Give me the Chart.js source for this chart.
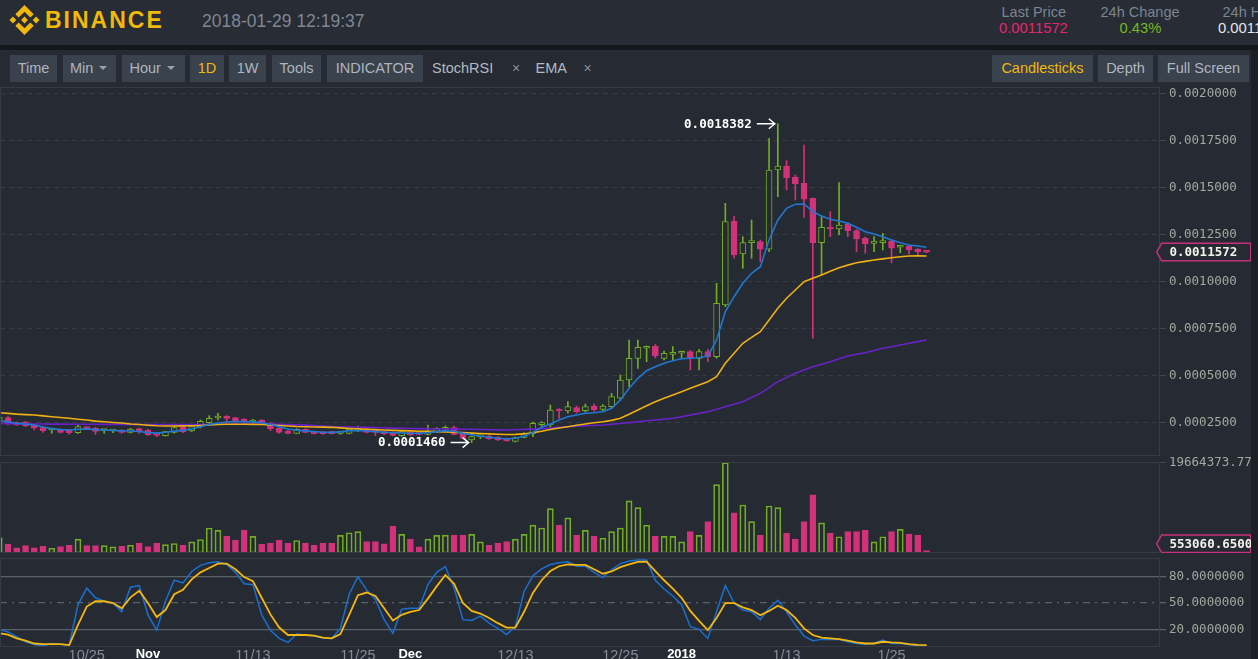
<!DOCTYPE html>
<html>
<head>
<meta charset="utf-8">
<title>BNB/BTC 1D</title>
<script src="https://cdn.jsdelivr.net/npm/chart.js@4.4.1/dist/chart.umd.min.js"></script>
<style>
  html, body { margin:0; padding:0; width:1258px; height:659px; overflow:hidden; background:#252a33; }
  body { position:relative; font-family:"Liberation Sans", Arial, sans-serif; }
  .abs { position:absolute; white-space:nowrap; }
  #header { left:0; top:0; width:1258px; height:45px; background:#272c35; }
  #strip { left:0; top:45px; width:1258px; height:5px; background:#14171c; }
  #edge { left:1251px; top:50px; width:7px; height:609px; background:#1b1f25; z-index:5; }
  .btn { top:55px; height:27px; line-height:27px; background:#3a424d; color:#aeb5be; font-size:14.5px; text-align:center; }
  .plain { top:55px; height:27px; line-height:27px; color:#b3b9c2; font-size:14.5px; }
  .x { top:55px; height:27px; line-height:27px; color:#8c939c; font-size:14px; }
  .caret { display:inline-block; width:0; height:0; border-left:4.5px solid transparent; border-right:4.5px solid transparent; border-top:4.5px solid #9aa1aa; vertical-align:middle; margin-left:6px; position:relative; top:-1px; }
  .hl { font-size:14.5px; line-height:14.5px; color:#7d8591; }
  .hv { font-size:14.8px; line-height:14.8px; }
  canvas { position:absolute; left:0; display:block; }
</style>
</head>
<body>
<div id="header" class="abs"></div>
<div id="strip" class="abs"></div>
<svg class="abs" style="left:9px;top:5px" width="31" height="30" viewBox="0 0 126.61 126.61" fill="#f0b90b">
  <path d="M38.73,53.2l24.59-24.58,24.6,24.6,14.3-14.31L63.32,0,24.42,38.9Z"/>
  <path d="M0,63.31l14.3-14.31,14.31,14.31L14.3,77.61Z"/>
  <path d="M38.73,73.41,63.32,98l24.6-24.6,14.31,14.29L63.32,126.61,24.42,87.71Z"/>
  <path d="M98,63.31l14.3-14.31,14.31,14.3-14.31,14.32Z"/>
  <path d="M77.83,63.3L63.32,48.78,48.81,63.29l14.51,14.5Z"/>
</svg>
<div class="abs" style="left:45px;top:8.7px;font-size:23px;line-height:23px;font-weight:bold;letter-spacing:2px;color:#f0b90b;">BINANCE</div>
<div class="abs" style="left:202px;top:12.7px;font-size:17.5px;line-height:17.5px;color:#7f8792;">2018-01-29 12:19:37</div>
<div class="abs hl" style="left:1001.5px;top:4.8px;">Last Price</div>
<div class="abs hv" style="left:999px;top:20.8px;color:#e8256f;">0.0011572</div>
<div class="abs hl" style="left:1100.5px;top:4.8px;">24h Change</div>
<div class="abs hv" style="left:1119.5px;top:20.8px;color:#72bb1c;">0.43%</div>
<div class="abs hl" style="left:1222.5px;top:4.8px;">24h High</div>
<div class="abs hv" style="left:1218px;top:20.8px;color:#e3e6ea;">0.0011900</div>

<div class="abs btn" style="left:10px;width:47px;">Time</div>
<div class="abs btn" style="left:63px;width:53px;text-align:left;box-sizing:border-box;padding-left:7px;">Min<span class="caret"></span></div>
<div class="abs btn" style="left:122px;width:63px;text-align:left;box-sizing:border-box;padding-left:7.5px;">Hour<span class="caret"></span></div>
<div class="abs btn" style="left:190px;width:34px;color:#f0b90b;">1D</div>
<div class="abs btn" style="left:229px;width:37px;">1W</div>
<div class="abs btn" style="left:272px;width:49px;">Tools</div>
<div class="abs btn" style="left:327px;width:96px;">INDICATOR</div>
<div class="abs plain" style="left:432px;">StochRSI</div>
<div class="abs x" style="left:512px;">×</div>
<div class="abs plain" style="left:535.5px;">EMA</div>
<div class="abs x" style="left:583.5px;">×</div>
<div class="abs btn" style="left:992px;width:101px;color:#f0b90b;">Candlesticks</div>
<div class="abs btn" style="left:1098px;width:55px;">Depth</div>
<div class="abs btn" style="left:1158px;width:91px;">Full Screen</div>

<canvas id="cMain" width="1258" height="369" style="top:87px"></canvas>
<canvas id="cVol" width="1258" height="97" style="top:456px"></canvas>
<canvas id="cStoch" width="1258" height="110" style="top:558px"></canvas>
<div id="edge" class="abs"></div>

<script>
// ---------------- data (BNB/BTC, daily, 2017-10-15 .. 2018-01-29) ----------------
// prices are in units of 0.0000001 BTC
const tickLabels = ['10/25','Nov','11/13','11/25','Dec','12/13','12/25','2018','1/13','1/25'];
const tickIndex  = [10, 17, 29, 41, 47, 59, 71, 78, 90, 102];
const majorTicks = ['Nov','Dec','2018'];
const priceTicks = [2500, 5000, 7500, 10000, 12500, 15000, 17500, 20000];
const stochTicks = [20, 50, 80];

const open = [2589,2783,2518,2553,2394,2252,2128,2164,2128,1987,
2252,2235,2093,2075,2128,2005,2199,2128,1952,1828,
2005,2270,2075,2305,2518,2765,2872,2783,2712,2553,
2659,2482,2217,2075,1952,2164,1987,1987,2040,1952,
1952,2111,2182,2040,2040,1987,1828,2022,2022,1899,
2040,2164,2252,1952,1598,1775,1810,1739,1668,1527,
1739,1953,2410,2394,3227,3137,3312,3153,3402,3227,
3365,3811,4782,5934,6465,6587,5934,6146,6200,6285,
5934,6285,6019,8763,13222,11470,12070,12123,11720,15929,
16141,15541,15223,14427,12070,12887,12797,13063,12707,12304,
12038,12070,12160,11826,11895,11720,11620];
const high = [2872,2836,2553,2589,2429,2305,2164,2199,2164,2429,
2270,2270,2146,2146,2146,2217,2235,2164,1969,2058,
2341,2305,2341,2659,2889,3013,2889,2801,2730,2695,
2695,2518,2252,2111,2199,2199,2005,2005,2058,2022,
2217,2341,2217,2058,2058,2022,2075,2058,2040,2394,
2252,2341,2341,1987,1810,1863,1845,1775,1704,1757,
1987,2553,2569,3455,3270,3631,3402,3509,3509,3482,
4076,5048,6906,6906,6587,6667,6322,6550,6322,6348,
6412,6412,9915,14161,13487,12389,13275,12213,17611,18382,
16423,15663,17256,14443,13487,13715,15255,13142,12771,12373,
12389,12569,12240,11920,11948,11762,11650];
const low = [2553,2394,2376,2305,2128,2005,1952,1969,1899,1952,
2164,1899,1952,1987,1952,1969,1952,1845,1775,1810,
1952,1987,2040,2235,2447,2659,2518,2535,2447,2518,
2411,2093,1952,1916,1934,1969,1916,1899,1916,1899,
1916,2040,1969,1828,1881,1810,1792,1828,1863,1863,
2005,2093,1863,1651,1460,1668,1633,1562,1527,1492,
1704,1773,2304,2304,2749,3015,3031,3084,3110,3137,
3280,3721,4427,5403,5754,5950,5844,5844,5934,5313,
5313,5754,5934,8673,11242,10711,11242,11062,11592,14512,
14867,14336,13418,6996,10356,12389,12479,12389,11592,11507,
11592,11683,11008,11539,11470,11364,11540];
const close = [2801,2447,2411,2341,2235,2075,2164,2005,1987,2305,
2199,2058,2128,2128,2005,2182,2040,1881,1845,2040,
2252,2040,2305,2589,2748,2818,2748,2624,2571,2659,
2447,2199,2005,1952,2164,2005,1934,1934,1934,2005,
2182,2164,2005,2005,1916,1845,2040,1863,1899,2075,
2217,2217,1899,1686,1775,1828,1668,1598,1562,1721,
1952,2484,2447,3190,3137,3365,3100,3365,3190,3402,
3896,4782,5934,6518,6550,6056,6200,6231,6285,5934,
6285,6019,8854,13185,11417,12070,12123,11720,15929,16141,
15520,15186,14374,12070,12887,12797,13010,12707,12266,12001,
12160,12160,11773,11895,11683,11592,11572];
const volume = [3314000,1915000,1105000,1620000,1105000,1473000,1031000,1399000,1694000,3020000,
1620000,1620000,1620000,1326000,1473000,1694000,2136000,1399000,2136000,1841000,
2062000,1694000,2430000,2946000,5450000,4935000,3609000,2799000,5008000,3609000,
1915000,2136000,2799000,2136000,2725000,2136000,1694000,2136000,2136000,3830000,
4419000,4640000,2504000,2504000,1989000,5818000,4051000,3020000,1326000,3020000,
3830000,3903000,3903000,3903000,4051000,2430000,1694000,2136000,2504000,3020000,
4051000,6039000,5450000,9648000,6039000,7660000,3830000,4935000,3609000,3241000,
4640000,5450000,11342000,9869000,6039000,3609000,3609000,3609000,2430000,4640000,
3830000,6849000,14877000,19664373.77,8764000,10458000,6849000,3830000,10237000,9869000,
4345000,3020000,6849000,12668000,6555000,4345000,3535000,4640000,4640000,4935000,
2430000,3535000,4640000,5156000,4124000,3830000,553060.65];
const ema7 = [2624,2560,2490,2440,2394,2290,2200,2150,2128,2170,
2182,2150,2128,2100,2080,2075,2050,1990,1960,2005,
2070,2110,2180,2305,2420,2500,2550,2571,2571,2560,
2520,2420,2300,2180,2120,2080,2040,2010,2000,2030,
2090,2100,2075,2040,2010,1987,1970,1955,1950,1980,
2040,2090,2060,1950,1880,1800,1740,1690,1650,1690,
1800,2000,2270,2450,2659,2834,2925,3015,3047,3100,
3280,3721,4342,4873,5276,5488,5669,5807,5913,5934,
5966,6056,6906,8408,9204,9915,10446,10796,12213,13275,
13896,14108,14124,13715,13487,13312,13222,13100,12887,12654,
12532,12389,12213,12070,11948,11895,11826];
const ema25 = [3048,3010,2970,2945,2925,2880,2830,2790,2748,2700,
2660,2600,2570,2530,2500,2450,2420,2380,2350,2340,
2340,2345,2350,2370,2400,2420,2430,2430,2430,2425,
2420,2394,2370,2340,2310,2300,2290,2280,2270,2240,
2210,2190,2170,2150,2130,2110,2095,2080,2065,2055,
2040,2030,2010,1990,1960,1940,1920,1900,1890,1895,
1920,1990,2060,2150,2230,2300,2380,2447,2510,2569,
2640,2749,2960,3190,3420,3631,3810,3986,4160,4342,
4520,4692,4958,5669,6200,6730,7040,7346,7967,8588,
9119,9560,10000,10180,10356,10550,10743,10880,11008,11080,
11152,11210,11274,11320,11364,11370,11364];
const ema99 = [2470,2465,2460,2455,2450,2445,2440,2438,2435,2433,
2432,2430,2428,2426,2425,2424,2422,2420,2418,2416,
2415,2415,2416,2420,2425,2430,2435,2440,2442,2445,
2446,2447,2430,2415,2400,2385,2360,2335,2310,2300,
2290,2285,2270,2260,2245,2230,2217,2208,2200,2190,
2182,2178,2172,2168,2164,2155,2145,2135,2130,2140,
2160,2175,2200,2230,2265,2304,2325,2350,2370,2394,
2430,2470,2520,2569,2615,2660,2705,2749,2830,2920,
3010,3100,3230,3365,3500,3631,3850,4076,4380,4692,
4920,5138,5310,5488,5620,5754,5905,6056,6145,6231,
6350,6465,6550,6640,6730,6820,6906];
const stochK = [20,17,11.5,5.8,2.7,1.2,3.8,3,2,48,
67,56,52,50,40,68,70,36.5,19,52,
76,73,86,93,96,97,94,85,72,71,
36.5,19,9.6,5,14.6,13.5,12.3,10,9.6,21,
60,80,65,54,31,15.4,43,44,44,71,
85,91.5,67,31,30,35,27,21,14,23,
63.5,81,89,94,96,97,92,92,85,79,
88,95,98,99,99,76,66,58,48,23,
20,9.6,40,70,50,42,40,31,44,53,
40,25,12.3,7,8.5,8.5,8.5,5.8,3.8,3,
3.8,7.7,3.8,4.2,2.7,1.2,1.2];
const stochD = [15.4,14,9.6,7,3.8,3,3,3,2,25,
46,52,52,50,44,56.5,64,50,34,42,
60,65,77,85,90,95,95,88.5,79.6,75,
56,37,22,13.5,13.5,13.5,12.7,10.4,9.6,14.6,
36.5,59,62,58,44,30,36.5,40,42,55,
69,82,72,50,41,38,33,27,22,22,
40,61.5,76,86.5,92,94,93.5,93.5,88.5,83.5,
86,91,94,97,97.3,86.5,76,66.5,56,41,
29.6,19,33,50,50,45,42,36,41,47,
42,33,21,13.5,10.4,9.6,8.8,7,5,3.8,
3.8,5.8,5,4.6,3,2.3,2];

// ---------------- styling ----------------
const SANS = '"Liberation Sans", Arial, sans-serif';
const MONO = '"DejaVu Sans Mono", monospace';
const BG = '#252a33';
const UP = '#72ad22', DOWN = '#d2327a';
const GRID = '#363d47', FRAME = '#363c46', TICK = '#3f4650', AXIS_TXT = '#a3a99f', TAG = '#c7307a';
const AXIS_W = 99;
const X_MIN = 0.0857, X_MAX = 132.574;      // visible candle-index window
const P_MIN = 748, P_MAX = 20334;           // visible price window (0.0000001 BTC)
const VOL_MAX = 19820000;
const S_MIN = -0.2, S_MAX = 101.4;

Chart.defaults.font.family = SANS;
Chart.defaults.animation = false;

const N = close.length;
const isUp = i => close[i] >= open[i];
const pts = arr => arr.map((v, i) => ({x: i, y: v}));
const candleColor = close.map((c, i) => isUp(i) ? UP : DOWN);

function xScale(show) {
  return {
    type: 'linear', min: X_MIN, max: X_MAX, bounds: 'data', offset: false, display: show,
    grid: {display: false, drawTicks: false}, border: {display: false},
    afterBuildTicks: s => { s.ticks = tickIndex.map(v => ({value: v})); },
    afterFit: s => { s.paddingLeft = 0; s.paddingRight = 0; if (show) s.height = 21; },
    ticks: {
      autoSkip: false, maxRotation: 0, minRotation: 0, padding: 0,
      callback: (v, k) => tickLabels[k],
      color: c => majorTicks.includes(tickLabels[c.index]) ? '#ffffff' : '#858d98',
      font: c => majorTicks.includes(tickLabels[c.index])
        ? {family: SANS, size: 13, weight: 'bold'} : {family: SANS, size: 14.5}
    }
  };
}
function yBase(min, max, ticks, fmt) {
  return {
    position: 'right', min, max, bounds: 'data',
    afterBuildTicks: s => { s.ticks = ticks().map(v => ({value: v})); },
    afterFit: s => { s.width = AXIS_W; s.paddingTop = 0; s.paddingBottom = 0; },
    ticks: {padding: 3, color: AXIS_TXT, font: {family: MONO, size: 12.5}, callback: fmt}
  };
}

const framePlugin = {
  id: 'frame',
  afterDraw(chart) {
    const {ctx, chartArea: a} = chart;
    ctx.save();
    ctx.strokeStyle = FRAME; ctx.lineWidth = 1;
    ctx.strokeRect(a.left + 0.5, a.top + 0.5, a.right - a.left, a.bottom - a.top - 1);
    ctx.restore();
  }
};
function tagPlugin(getValue, fmt) {
  return {
    id: 'lastTag',
    afterDraw(chart) {
      const {ctx, chartArea: a} = chart;
      const v = getValue();
      const h = 17.5;
      let y = chart.scales.y.getPixelForValue(v);
      y = Math.min(Math.max(y, a.top + h / 2 + 1), a.bottom - h / 2 - 0.5);
      const x0 = a.right - 2.3, x1 = a.right + 2.7, x2 = a.right + 91.7;
      ctx.save();
      ctx.beginPath();
      ctx.moveTo(x0, y); ctx.lineTo(x1, y - h / 2); ctx.lineTo(x2, y - h / 2);
      ctx.lineTo(x2, y + h / 2); ctx.lineTo(x1, y + h / 2); ctx.closePath();
      ctx.fillStyle = BG; ctx.fill();
      ctx.strokeStyle = TAG; ctx.lineWidth = 1.5; ctx.stroke();
      ctx.fillStyle = '#f3f3ec';
      ctx.font = 'bold 12.5px ' + MONO;
      ctx.textBaseline = 'middle'; ctx.textAlign = 'left';
      ctx.fillText(fmt(v), a.right + 10.5, y + 0.5);
      ctx.restore();
    }
  };
}
const extremesPlugin = {
  id: 'extremes',
  afterDatasetsDraw(chart) {
    const {ctx} = chart, xs = chart.scales.x, ys = chart.scales.y;
    let hi = 0, lo = 0;
    for (let i = 1; i < N; i++) { if (high[i] > high[hi]) hi = i; if (low[i] < low[lo]) lo = i; }
    const mark = (i, v) => {
      const x = xs.getPixelForValue(i), y = ys.getPixelForValue(v);
      const tip = x - 3, tail = x - 21;
      ctx.save();
      ctx.fillStyle = '#ffffff'; ctx.strokeStyle = '#ffffff'; ctx.lineWidth = 1.5;
      ctx.font = 'bold 12.5px ' + MONO; ctx.textAlign = 'right'; ctx.textBaseline = 'middle';
      ctx.fillText((v / 1e7).toFixed(7), x - 26, y + 0.5);
      ctx.beginPath();
      ctx.moveTo(tail, y); ctx.lineTo(tip, y);
      ctx.moveTo(tip - 6, y - 5); ctx.lineTo(tip, y); ctx.lineTo(tip - 6, y + 5);
      ctx.stroke();
      ctx.restore();
    };
    mark(hi, high[hi]);
    mark(lo, low[lo]);
  }
};

const common = {
  responsive: false, animation: false, events: [],
  plugins: {legend: {display: false}, tooltip: {enabled: false}}
};
const lineDs = (arr, color, w, order) => ({
  type: 'line', data: pts(arr), borderColor: color, borderWidth: w,
  pointRadius: 0, tension: 0, fill: false, order
});

// ---------------- price panel ----------------
const yMain = yBase(P_MIN, P_MAX, () => priceTicks, v => (v / 1e7).toFixed(7));
yMain.grid = {color: GRID, lineWidth: 1, tickLength: 7, tickColor: TICK};
yMain.border = {display: false, dash: [5, 4]};
new Chart(document.getElementById('cMain'), {
  type: 'bar',
  data: {datasets: [
    lineDs(ema7, '#1f78d2', 1.6, 0),
    lineDs(ema25, '#eeb013', 1.6, 0),
    lineDs(ema99, '#6a22c8', 1.6, 0),
    {type: 'bar', data: close.map((c, i) => ({x: i, y: [open[i], c]})),
     backgroundColor: close.map((c, i) => isUp(i) ? BG : DOWN), borderColor: candleColor,
     borderWidth: 1, borderSkipped: false, barThickness: 6, minBarLength: 2, grouped: false, order: 1},
    {type: 'bar', data: close.map((c, i) => ({x: i, y: [low[i], high[i]]})),
     backgroundColor: candleColor, borderWidth: 0, barThickness: 1, grouped: false, order: 2}
  ]},
  options: Object.assign({}, common, {layout: {padding: 0}, scales: {x: xScale(false), y: yMain}}),
  plugins: [framePlugin, extremesPlugin, tagPlugin(() => close[N - 1], v => (v / 1e7).toFixed(7))]
});

// ---------------- volume panel ----------------
const yVol = yBase(0, VOL_MAX, () => [Math.max(...volume)], v => v.toFixed(2));
yVol.grid = {drawOnChartArea: false, tickLength: 7, tickColor: TICK};
yVol.border = {display: false};
new Chart(document.getElementById('cVol'), {
  type: 'bar',
  data: {datasets: [
    {data: pts(volume), backgroundColor: close.map((c, i) => isUp(i) ? 'rgba(0,0,0,0)' : DOWN),
     borderColor: candleColor, borderWidth: 1, borderSkipped: false, barThickness: 6, grouped: false}
  ]},
  options: Object.assign({}, common, {layout: {padding: {top: 6, bottom: 0, left: 0, right: 0}},
    scales: {x: xScale(false), y: yVol}}),
  plugins: [framePlugin, tagPlugin(() => volume[N - 1], v => v.toFixed(4))]
});

// ---------------- StochRSI panel ----------------
const yStoch = yBase(S_MIN, S_MAX, () => stochTicks, v => v.toFixed(7));
yStoch.grid = {color: '#5b6169', lineWidth: 1.3, tickLength: 7, tickColor: '#5b6169'};
yStoch.border = {display: false, dash: c => (c.tick && c.tick.value === 50) ? [7, 5, 2, 5] : []};
new Chart(document.getElementById('cStoch'), {
  type: 'line',
  data: {datasets: [
    lineDs(stochK, '#1a70d2', 1.5, 1),
    lineDs(stochD, '#f5b70c', 1.8, 0)
  ]},
  options: Object.assign({}, common, {layout: {padding: 0}, scales: {x: xScale(true), y: yStoch}}),
  plugins: [framePlugin]
});
</script>
</body>
</html>
